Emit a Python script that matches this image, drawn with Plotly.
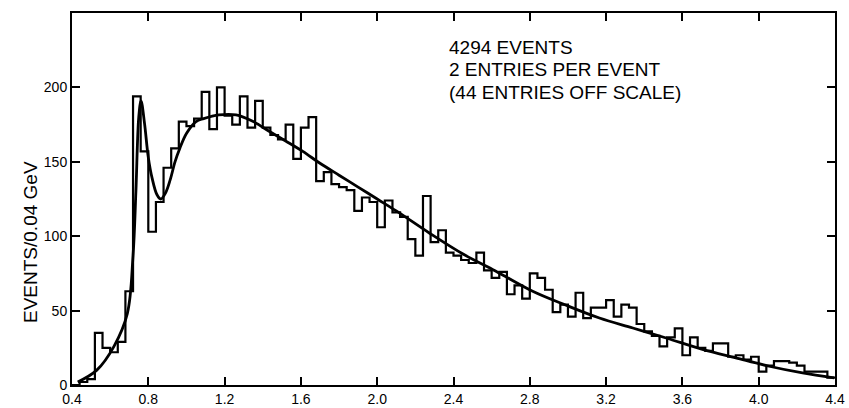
import plotly.graph_objects as go

# Histogram: 100 bins of 0.04 GeV from 0.4 to 4.4 GeV (counts)
bin_low = 0.4
bin_width = 0.04
counts = [
    0, 2, 4, 35, 25, 22, 29, 63, 194, 157,
    103, 123, 146, 159, 177, 174, 179, 197, 172, 200,
    181, 175, 194, 173, 191, 173, 168, 165, 175, 152,
    173, 180, 137, 143, 135, 133, 131, 117, 126, 123,
    106, 124, 116, 113, 98, 87, 127, 96, 104, 89,
    87, 84, 82, 89, 77, 72, 76, 61, 67, 58,
    75, 72, 64, 49, 54, 46, 62, 45, 52, 52,
    57, 46, 54, 52, 41, 36, 33, 26, 32, 38,
    20, 32, 25, 23, 28, 28, 19, 20, 17, 19,
    9, 13, 16, 16, 15, 13, 9, 9, 9, 5,
]

# Fit curve
fit_x = [0.43, 0.53, 0.62, 0.69, 0.72, 0.735, 0.75, 0.762, 0.78, 0.80, 0.82, 0.845,
         0.865, 0.89, 0.915, 0.94, 0.965, 1.0, 1.05, 1.09, 1.17, 1.26, 1.35, 1.44,
         1.52, 1.61, 1.70, 1.80, 1.90, 2.0, 2.10, 2.275, 2.45, 2.62, 2.815, 2.99,
         3.165, 3.34, 3.515, 3.705, 3.88, 4.055, 4.23, 4.395]
fit_y = [2, 10, 26, 48, 87, 130, 180, 191, 176, 153, 139, 128,
         125, 129, 138, 150, 159, 169, 177, 179, 181.5, 181.5, 177, 170,
         164, 157, 149, 141, 133, 125, 117, 102, 88, 76.6, 63, 53.6,
         45, 38.3, 31.6, 23.9, 18.2, 12.6, 8.1, 4.8]

x_ticks = [0.4, 0.8, 1.2, 1.6, 2.0, 2.4, 2.8, 3.2, 3.6, 4.0, 4.4]
x_tick_labels = ["0.4", "0.8", "1.2", "1.6", "2.0", "2.4", "2.8", "3.2", "3.6", "4.0", "4.4"]
y_ticks = [0, 50, 100, 150, 200]
y_tick_labels = ["0", "50", "100", "150", "200"]

info_lines = ["4294 EVENTS", "2 ENTRIES PER EVENT", "(44 ENTRIES OFF SCALE)"]
y_title = "EVENTS/0.04 GeV"

edges = [bin_low + bin_width * i for i in range(len(counts) + 1)]
step_y = counts + [counts[-1]]

fig = go.Figure()
fig.add_trace(go.Scatter(x=edges, y=step_y, mode="lines", line_shape="hv",
                         line=dict(color="black", width=2.2), hoverinfo="skip"))
fig.add_trace(go.Scatter(x=fit_x, y=fit_y, mode="lines", line_shape="spline",
                         line=dict(color="black", width=2.8, smoothing=1.0), hoverinfo="skip"))

font_family = "Liberation Sans, Arial, Helvetica, sans-serif"

fig.update_layout(
    width=849, height=408,
    margin=dict(l=72, r=14, t=13, b=23, autoexpand=False),
    paper_bgcolor="white", plot_bgcolor="white",
    showlegend=False,
    font=dict(family=font_family, color="black", size=14),
    xaxis=dict(range=[0.4, 4.4], tickvals=x_ticks, ticktext=x_tick_labels,
               ticks="inside", ticklen=8, tickwidth=1.5, tickcolor="black",
               showline=True, linecolor="black", linewidth=2, mirror="ticks",
               showgrid=False, zeroline=False, tickfont=dict(size=14), automargin=False),
    yaxis=dict(range=[0, 250], tickvals=y_ticks, ticktext=y_tick_labels,
               ticks="inside", ticklen=8, tickwidth=1.5, tickcolor="black",
               showline=True, linecolor="black", linewidth=2, mirror="ticks",
               showgrid=False, zeroline=False, tickfont=dict(size=14), automargin=False),
)

for k, line in enumerate(info_lines):
    fig.add_annotation(xref="paper", yref="paper", x=(447 - 72) / 763, y=(385 - 47 - 22.5 * k) / 372,
                       xanchor="left", yanchor="middle", text=line, showarrow=False,
                       font=dict(size=19, family=font_family, color="black"))

fig.add_annotation(xref="paper", yref="paper", x=-(72 - 30) / 763, y=(385 - 242) / 372,
                   xanchor="center", yanchor="middle", text=y_title, textangle=-90,
                   showarrow=False, font=dict(size=19, family=font_family, color="black"))

fig.write_html("out.html", config={"displayModeBar": False},
               post_script="document.body.style.margin='0px';document.body.style.overflow='hidden';")
